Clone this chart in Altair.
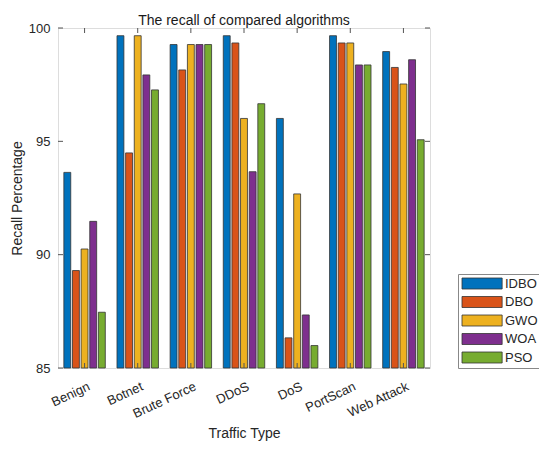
import altair as alt
import pandas as pd

categories = ["Benign", "Botnet", "Brute Force", "DDoS", "DoS", "PortScan", "Web Attack"]
series = ["IDBO", "DBO", "GWO", "WOA", "PSO"]
IDBO = [93.63, 99.66, 99.27, 99.66, 96.01, 99.66, 98.96]
DBO = [89.30, 94.49, 98.15, 99.34, 86.33, 99.34, 98.26]
GWO = [90.25, 99.66, 99.27, 96.01, 92.68, 99.34, 97.53]
WOA = [91.47, 97.93, 99.27, 93.66, 87.34, 98.37, 98.60]
PSO = [87.46, 97.27, 99.27, 96.66, 85.99, 98.37, 95.07]
colors = ["#0072BD", "#D95319", "#EDB120", "#7E2F8E", "#77AC30"]
y_ticks = [85, 90, 95, 100]

vals = {"IDBO": IDBO, "DBO": DBO, "GWO": GWO, "WOA": WOA, "PSO": PSO}
rows = []
for s in series:
    for c, v in zip(categories, vals[s]):
        rows.append({"Traffic Type": c, "Algorithm": s, "Recall": v})
df = pd.DataFrame(rows)
cat_df = pd.DataFrame({"Traffic Type": categories})
ytick_df = pd.DataFrame({"v": y_ticks})

W, H = 372, 340
FONT = "Liberation Sans"

xscale = alt.Scale(domain=categories, paddingInner=0.22, paddingOuter=0.11)
yscale = alt.Scale(domain=[85, 100], zero=False, nice=False)

bars = alt.Chart(df).mark_bar(stroke="#333333", strokeWidth=0.8).encode(
    x=alt.X("Traffic Type:N", sort=categories, scale=xscale,
            axis=alt.Axis(labelAngle=-25, labelAlign="right", labelBaseline="top",
                          labelPadding=12, labelOffset=2, ticks=False, domain=False,
                          labelFontSize=13, titleFontSize=14, titlePadding=6,
                          labelColor="#262626", titleColor="#262626",
                          labelFont=FONT, titleFont=FONT, titleFontWeight="normal")),
    xOffset=alt.XOffset("Algorithm:N", sort=series, scale=alt.Scale(paddingInner=0.2)),
    y=alt.Y("Recall:Q", scale=yscale, title="Recall Percentage",
            axis=alt.Axis(values=y_ticks, ticks=False, domain=False, grid=False,
                          labelPadding=8, labelFontSize=13, titleFontSize=14,
                          titlePadding=4, labelColor="#262626", titleColor="#262626",
                          labelFont=FONT, titleFont=FONT, titleFontWeight="normal")),
    y2=alt.datum(85),
    color=alt.Color("Algorithm:N", sort=series,
                    scale=alt.Scale(domain=series, range=colors),
                    legend=alt.Legend(title=None, orient="none", legendX=400, legendY=246,
                                      symbolType="M-1,-1L6.3,-1L6.3,1L-1,1Z",
                                      symbolSize=121, symbolStrokeColor="#333333",
                                      symbolStrokeWidth=0.8, labelFontSize=13,
                                      labelFont=FONT, labelColor="#262626",
                                      rowPadding=3.5, strokeColor="#888888",
                                      fillColor="white", padding=3, labelOffset=31)),
)

xt_bottom = alt.Chart(cat_df).mark_rule(color="#555555", strokeWidth=1).encode(
    x=alt.X("Traffic Type:N", sort=categories, scale=xscale),
    y=alt.value(H), y2=alt.value(H - 5))
xt_top = alt.Chart(cat_df).mark_rule(color="#555555", strokeWidth=1).encode(
    x=alt.X("Traffic Type:N", sort=categories, scale=xscale),
    y=alt.value(0), y2=alt.value(5))
yt_left = alt.Chart(ytick_df).mark_rule(color="#555555", strokeWidth=1).encode(
    y=alt.Y("v:Q", scale=yscale), x=alt.value(0), x2=alt.value(5))
yt_right = alt.Chart(ytick_df).mark_rule(color="#555555", strokeWidth=1).encode(
    y=alt.Y("v:Q", scale=yscale), x=alt.value(W), x2=alt.value(W - 5))

chart = alt.layer(bars, xt_bottom, xt_top, yt_left, yt_right).properties(
    width=W, height=H,
    title=alt.Title("The recall of compared algorithms", fontSize=14, font=FONT,
                    fontWeight="normal", color="#1a1a1a", offset=4, dy=10),
    autosize=alt.AutoSizeParams(type="none"),
    padding={"left": 50, "top": 20, "right": 109, "bottom": 74},
).configure_view(stroke="#666666", strokeWidth=1).configure(background="white")

chart.save("out.html", embed_options={"renderer": "svg", "actions": False})
